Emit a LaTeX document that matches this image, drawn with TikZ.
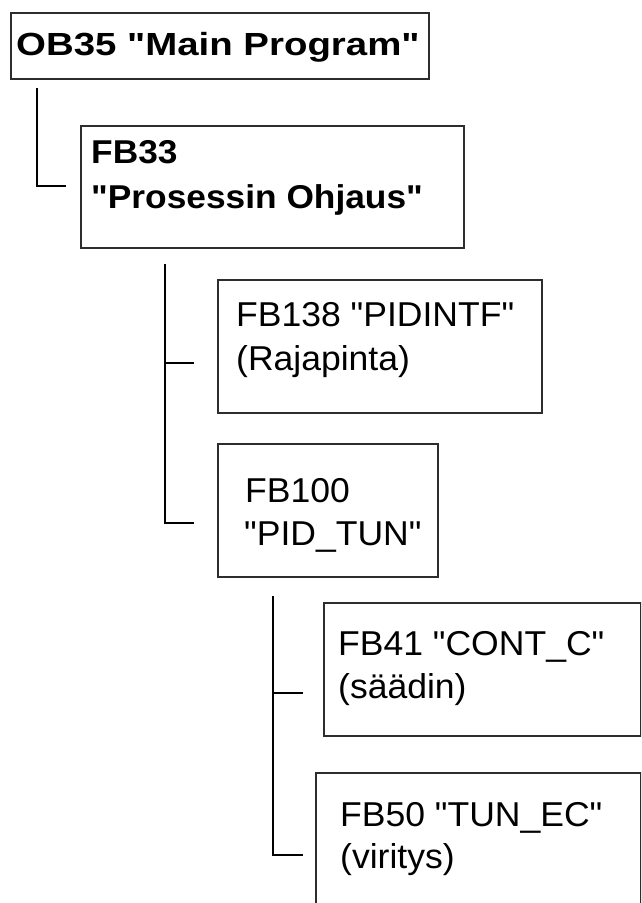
\documentclass[tikz,border=0pt]{standalone}
\usepackage{fontspec}
\newfontfamily\blockrm{Liberation Sans}[FakeStretch=1.03]
\newfontfamily\blockbf{Liberation Sans}[FakeStretch=1.07,BoldFeatures={FakeStretch=1.07}]
\newfontfamily\mainbf{Liberation Sans}[FakeStretch=1.2,BoldFeatures={FakeStretch=1.2}]
\usetikzlibrary{calc}
\definecolor{blockline}{RGB}{45,45,45}

\begin{document}
\begin{tikzpicture}[x=1pt,y=-1pt,line cap=rect,
  block/.style={draw=blockline,line width=1.6pt,anchor=north west,inner sep=0pt},
  txt/.style={anchor=base west,inner sep=0pt,font=\blockrm\fontsize{34.5}{40}\selectfont},
  txtbf/.style={anchor=base west,inner sep=0pt,font=\blockbf\bfseries\fontsize{33}{38}\selectfont},
  tree/.style={draw=black,line width=1.4pt}]
 \useasboundingbox (0,0) rectangle (641,903);
 \clip (0,0) rectangle (641,903);
 % call blocks
 \node[block,minimum width=418pt,minimum height=66pt] (ob35) at (10,12) {};
 \node[block,minimum width=383pt,minimum height=122pt] (fb33) at (80,125) {};
 \node[block,minimum width=324pt,minimum height=133pt] (fb138) at (217,279) {};
 \node[block,minimum width=220pt,minimum height=133pt] (fb100) at (217,443) {};
 \node[block,minimum width=317pt,minimum height=133pt] (fb41) at (323,602) {};
 \node[block,minimum width=325pt,minimum height=170pt] (fb50) at (315,772) {};
 % texts
 \node[anchor=base west,inner sep=0pt,font=\mainbf\bfseries\fontsize{32}{36}\selectfont]
  (ob35-txt) at (16,55) {OB35 "Main Program"};
 \node[txtbf] (fb33-a) at (91,163) {FB33};
 \node[txtbf] (fb33-b) at (91,208) {"Prosessin Ohjaus"};
 \node[txt] (fb138-a) at (236,326) {FB138 "PIDINTF"};
 \node[txt] (fb138-b) at (236,370) {(Rajapinta)};
 \node[txt] (fb100-a) at (245,502) {FB100};
 \node[txt] (fb100-b) at (244,545) {"PID\_TUN"};
 \node[txt] (fb41-a) at (338,655) {FB41 "CONT\_C"};
 \node[txt] (fb41-b) at (338,698) {(säädin)};
 \node[txt] (fb50-a) at (340,826) {FB50 "TUN\_EC"};
 \node[txt] (fb50-b) at (340,868) {(viritys)};
 % tree lines
 \coordinate (ob35-stem) at ($(ob35.south west)+(27,9)$);
 \coordinate (fb33-tip) at ($(fb33.west)+(-15,-1)$);
 \draw[tree] (ob35-stem) |- (fb33-tip);
 \coordinate (fb33-stem) at ($(fb33.south west)+(85,16)$);
 \coordinate (fb138-tip) at ($(fb138.north west)+(-24,84)$);
 \coordinate (fb100-tip) at ($(fb100.north west)+(-24,80)$);
 \draw[tree] (fb33-stem) |- (fb100-tip);
 \draw[tree] (fb33-stem |- fb138-tip) -- (fb138-tip);
 \coordinate (fb100-stem) at ($(fb100.south west)+(56,19)$);
 \coordinate (fb41-tip) at ($(fb41.north west)+(-21,91)$);
 \coordinate (fb50-tip) at ($(fb50.north west)+(-13,83)$);
 \draw[tree] (fb100-stem) |- (fb50-tip);
 \draw[tree] (fb100-stem |- fb41-tip) -- (fb41-tip);
\end{tikzpicture}
\end{document}
